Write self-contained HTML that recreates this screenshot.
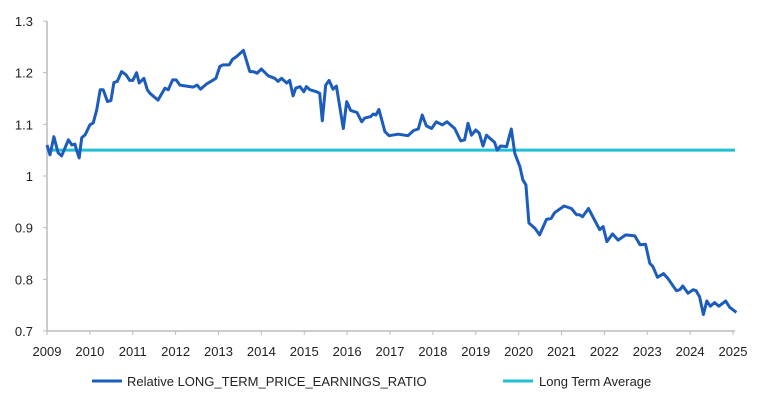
<!DOCTYPE html>
<html><head><meta charset="utf-8"><style>
body{margin:0;background:#fff;}
svg text{font-family:"Liberation Sans",sans-serif;fill:#222;font-size:13px;}
</style></head><body>
<svg id="chart" width="760" height="404"></svg>
<script>
const dates=[2009.0,2009.07,2009.16,2009.26,2009.34,2009.50,2009.58,2009.65,2009.69,2009.75,2009.81,2009.89,2010.00,2010.08,2010.16,2010.24,2010.31,2010.41,2010.49,2010.56,2010.64,2010.74,2010.84,2010.93,2011.00,2011.09,2011.15,2011.26,2011.34,2011.40,2011.59,2011.75,2011.83,2011.93,2012.01,2012.10,2012.41,2012.50,2012.58,2012.72,2012.88,2012.94,2013.03,2013.10,2013.25,2013.33,2013.42,2013.58,2013.73,2013.81,2013.90,2014.00,2014.16,2014.31,2014.39,2014.47,2014.59,2014.66,2014.74,2014.80,2014.90,2014.99,2015.05,2015.13,2015.29,2015.36,2015.42,2015.50,2015.58,2015.67,2015.75,2015.91,2015.99,2016.08,2016.23,2016.34,2016.41,2016.55,2016.61,2016.67,2016.74,2016.88,2016.98,2017.19,2017.42,2017.55,2017.66,2017.75,2017.85,2017.97,2018.08,2018.22,2018.33,2018.51,2018.65,2018.74,2018.82,2018.90,2019.00,2019.08,2019.17,2019.25,2019.37,2019.44,2019.50,2019.58,2019.72,2019.83,2019.91,2020.03,2020.10,2020.17,2020.24,2020.38,2020.49,2020.65,2020.76,2020.84,2021.06,2021.23,2021.35,2021.42,2021.49,2021.63,2021.75,2021.89,2021.97,2022.06,2022.19,2022.32,2022.50,2022.71,2022.83,2022.96,2023.06,2023.13,2023.24,2023.38,2023.48,2023.68,2023.76,2023.83,2023.95,2024.07,2024.14,2024.22,2024.31,2024.39,2024.47,2024.57,2024.67,2024.83,2024.92,2025.08];
const values=[1.06,1.041,1.076,1.045,1.039,1.07,1.06,1.062,1.05,1.035,1.074,1.08,1.099,1.103,1.128,1.167,1.167,1.144,1.146,1.181,1.183,1.202,1.196,1.185,1.185,1.2,1.18,1.189,1.167,1.16,1.147,1.17,1.167,1.186,1.186,1.176,1.172,1.176,1.168,1.178,1.186,1.189,1.212,1.215,1.215,1.226,1.231,1.243,1.202,1.202,1.199,1.207,1.194,1.189,1.183,1.189,1.18,1.185,1.155,1.17,1.173,1.163,1.173,1.167,1.163,1.16,1.107,1.176,1.185,1.168,1.174,1.092,1.144,1.127,1.123,1.105,1.112,1.115,1.12,1.118,1.129,1.086,1.078,1.081,1.078,1.088,1.091,1.118,1.097,1.092,1.105,1.099,1.105,1.092,1.068,1.07,1.102,1.079,1.089,1.083,1.058,1.079,1.07,1.065,1.05,1.058,1.057,1.091,1.044,1.018,0.992,0.983,0.909,0.899,0.886,0.916,0.918,0.929,0.942,0.937,0.925,0.925,0.921,0.937,0.918,0.896,0.902,0.873,0.888,0.876,0.886,0.884,0.867,0.868,0.831,0.825,0.804,0.811,0.802,0.778,0.78,0.787,0.773,0.78,0.778,0.766,0.732,0.758,0.748,0.755,0.748,0.758,0.746,0.736];
const longTermAverage=1.05;
const yTicks=[0.7,0.8,0.9,1,1.1,1.2,1.3];
const yTickLabels=["0.7","0.8","0.9","1","1.1","1.2","1.3"];
const xTicks=[2009,2010,2011,2012,2013,2014,2015,2016,2017,2018,2019,2020,2021,2022,2023,2024,2025];

const NS="http://www.w3.org/2000/svg";
const svg=document.getElementById('chart');
const X0=47,X1=733,Y0=331,Y1=21;
const xs=v=>X0+(v-2009)/(2025-2009)*(X1-X0);
const ys=v=>Y0-(v-0.7)/(1.3-0.7)*(Y0-Y1);
function mk(t,a,p){const e=document.createElementNS(NS,t);for(const k in a)e.setAttribute(k,a[k]);(p||svg).appendChild(e);return e;}

const yAxis=mk('line',{x1:X0,y1:Y1,x2:X0,y2:Y0,stroke:'#bbb','stroke-width':1.5});


const xAxis=mk('line',{x1:X0,y1:Y0,x2:X1+2,y2:Y0,stroke:'#bbb','stroke-width':1.5});



yTicks.forEach((v,i)=>{
  const tk=mk('line',{x1:X0-4,y1:ys(v),x2:X0,y2:ys(v),stroke:'#bbb'});
  
  
  const t=mk('text',{x:X0-14,y:ys(v)+5,'text-anchor':'end'});
  t.textContent=yTickLabels[i];
  
  
});
xTicks.forEach(v=>{
  const tk=mk('line',{x1:xs(v),y1:Y0,x2:xs(v),y2:Y0+4,stroke:'#bbb'});
  
  
  const t=mk('text',{x:xs(v),y:356,'text-anchor':'middle'});
  t.textContent=String(v);
  
  
});

const avg=mk('line',{x1:X0,y1:ys(longTermAverage),x2:X1+2,y2:ys(longTermAverage),stroke:'#22c0d4','stroke-width':3});



const pts=dates.map((d,i)=>xs(d).toFixed(1)+','+ys(values[i]).toFixed(1)).join(' ');
const ln=mk('polyline',{points:pts,fill:'none',stroke:'#1c5cbc','stroke-width':3,'stroke-linejoin':'round'});



const g=mk('g',{});


const l1=mk('line',{x1:92,y1:381,x2:122,y2:381,stroke:'#1c5cbc','stroke-width':3},g);


const t1=mk('text',{x:127,y:386},g);
t1.textContent='Relative LONG_TERM_PRICE_EARNINGS_RATIO';


const l2=mk('line',{x1:503,y1:381,x2:533,y2:381,stroke:'#22c0d4','stroke-width':3},g);


const t2=mk('text',{x:539,y:386},g);
t2.textContent='Long Term Average';


</script>
</body></html>
